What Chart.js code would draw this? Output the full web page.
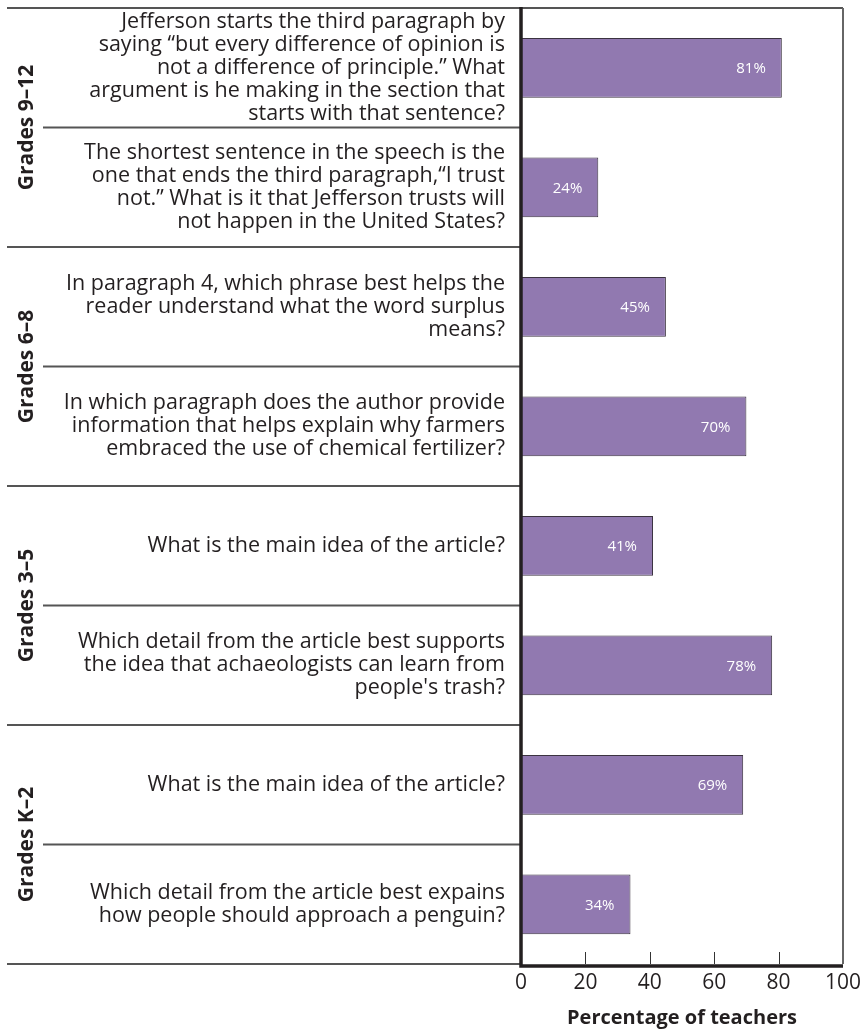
<!DOCTYPE html>
<html>
<head>
<meta charset="utf-8">
<script src="https://cdn.jsdelivr.net/npm/chart.js@4.4.1/dist/chart.umd.min.js"></script>
<style>
    html, body { margin: 0; padding: 0; background: #ffffff; }
    #wrap { width: 865px; height: 1030px; position: relative; }
</style>
</head>
<body>
<div id="wrap"><canvas id="graficoPerguntas"></canvas></div>
<script>
const perguntas = [
    ["Jefferson starts the third paragraph by", "saying \u201cbut every difference of opinion is", "not a difference of principle.\u201d What", "argument is he making in the section that", "starts with that sentence?"],
    ["The shortest sentence in the speech is the", "one that ends the third paragraph,\u201cI trust", "not.\u201d What is it that Jefferson trusts will", "not happen in the United States?"],
    ["In paragraph 4, which phrase best helps the", "reader understand what the word surplus", "means?"],
    ["In which paragraph does the author provide", "information that helps explain why farmers", "embraced the use of chemical fertilizer?"],
    ["What is the main idea of the article?"],
    ["Which detail from the article best supports", "the idea that achaeologists can learn from", "people's trash?"],
    ["What is the main idea of the article?"],
    ["Which detail from the article best expains", "how people should approach a penguin?"]
];
const percentuais = [81, 24, 45, 70, 41, 78, 69, 34];
const grupos = ["Grades 9\u201312", "Grades 6\u20138", "Grades 3\u20135", "Grades K\u20132"];
const perguntasPorGrupo = 2;
const ticksX = [0, 20, 40, 60, 80, 100];

const FONTE = "'Open Sans', 'Noto Sans', sans-serif";
const COR_TEXTO = '#231f20';

// linhas da tabela, eixos grossos, marcas do eixo x e rótulos dos grupos
const tabelaPlugin = {
    id: 'tabela',
    afterDraw(chart) {
        const ctx = chart.ctx;
        const area = chart.chartArea;
        const y = chart.scales.y;
        const x = chart.scales.x;
        const n = percentuais.length;
        ctx.save();

        // separadores das linhas
        ctx.strokeStyle = '#555555';
        ctx.lineWidth = 2;
        for (let i = 0; i < n; i++) {
            const py = y.getPixelForValue(i - 0.5);
            const inicio = (i % perguntasPorGrupo === 0) ? 7 : 43;
            ctx.beginPath();
            ctx.moveTo(inicio, py);
            ctx.lineTo(i === 0 ? area.right : area.left, py);
            ctx.stroke();
        }
        // linha de baixo, à esquerda do eixo
        ctx.beginPath();
        ctx.moveTo(7, area.bottom);
        ctx.lineTo(area.left, area.bottom);
        ctx.stroke();

        // borda direita
        ctx.strokeStyle = '#666666';
        ctx.lineWidth = 2;
        ctx.beginPath();
        ctx.moveTo(area.right, area.top);
        ctx.lineTo(area.right, area.bottom);
        ctx.stroke();

        // marcas do eixo x, para dentro
        ctx.strokeStyle = '#333333';
        ctx.lineWidth = 1;
        ticksX.slice(1, -1).forEach(v => {
            const px = Math.round(x.getPixelForValue(v)) + 0.5;
            ctx.beginPath();
            ctx.moveTo(px, area.bottom);
            ctx.lineTo(px, area.bottom - 12);
            ctx.stroke();
        });

        // eixos grossos
        ctx.strokeStyle = '#231f20';
        ctx.lineWidth = 3.5;
        ctx.beginPath();
        ctx.moveTo(area.left, area.top - 1);
        ctx.lineTo(area.left, area.bottom + 2);
        ctx.lineTo(area.right, area.bottom + 2);
        ctx.stroke();

        // rótulos dos grupos, na vertical
        ctx.fillStyle = COR_TEXTO;
        ctx.font = 'bold 21px ' + FONTE;
        ctx.textAlign = 'center';
        ctx.textBaseline = 'middle';
        grupos.forEach((g, k) => {
            const y0 = y.getPixelForValue(k * perguntasPorGrupo - 0.5);
            const y1 = y.getPixelForValue((k + 1) * perguntasPorGrupo - 0.5);
            ctx.save();
            ctx.translate(27, (y0 + y1) / 2);
            ctx.rotate(-Math.PI / 2);
            ctx.fillText(g, 0, 0);
            ctx.restore();
        });

        // valores dentro das barras
        ctx.fillStyle = '#ffffff';
        ctx.font = '15px ' + FONTE;
        ctx.textAlign = 'right';
        chart.getDatasetMeta(0).data.forEach((bar, i) => {
            ctx.fillText(percentuais[i] + '%', bar.x - 16, bar.y + 1);
        });

        ctx.restore();
    }
};

const ctx = document.getElementById('graficoPerguntas').getContext('2d');
new Chart(ctx, {
    type: 'bar',
    data: {
        labels: perguntas,
        datasets: [{
            data: percentuais,
            backgroundColor: 'rgb(145, 121, 176)',
            borderColor: '#3b3340',
            borderWidth: 1,
            borderSkipped: false,
            barPercentage: 0.5,
            categoryPercentage: 1.0
        }]
    },
    options: {
        indexAxis: 'y',
        responsive: true,
        maintainAspectRatio: false,
        animation: false,
        layout: {
            padding: { top: 8, right: 22, bottom: 0, left: 0 }
        },
        plugins: {
            legend: { display: false },
            tooltip: { enabled: false }
        },
        scales: {
            x: {
                min: 0,
                max: 100,
                afterBuildTicks: (scale) => {
                    scale.ticks = ticksX.map(v => ({ value: v }));
                },
                afterFit: (scale) => {
                    scale.height = 66;
                    scale.paddingLeft = 0;
                    scale.paddingRight = 0;
                },
                grid: { display: false, drawTicks: false },
                border: { display: false },
                ticks: {
                    color: COR_TEXTO,
                    padding: 6,
                    maxRotation: 0,
                    font: { family: FONTE, size: 21 }
                },
                title: {
                    display: true,
                    text: 'Percentage of teachers',
                    color: COR_TEXTO,
                    padding: { top: 0, bottom: 0 },
                    font: { family: FONTE, size: 20, weight: 'bold' }
                }
            },
            y: {
                afterFit: (scale) => {
                    scale.width = 521;
                    scale.paddingTop = 0;
                    scale.paddingBottom = 0;
                },
                grid: { display: false, drawTicks: false },
                border: { display: false },
                ticks: {
                    color: COR_TEXTO,
                    padding: 16,
                    autoSkip: false,
                    font: { family: FONTE, size: 21.5, lineHeight: 1.07 }
                }
            }
        }
    },
    plugins: [tabelaPlugin]
});
</script>
</body>
</html>
